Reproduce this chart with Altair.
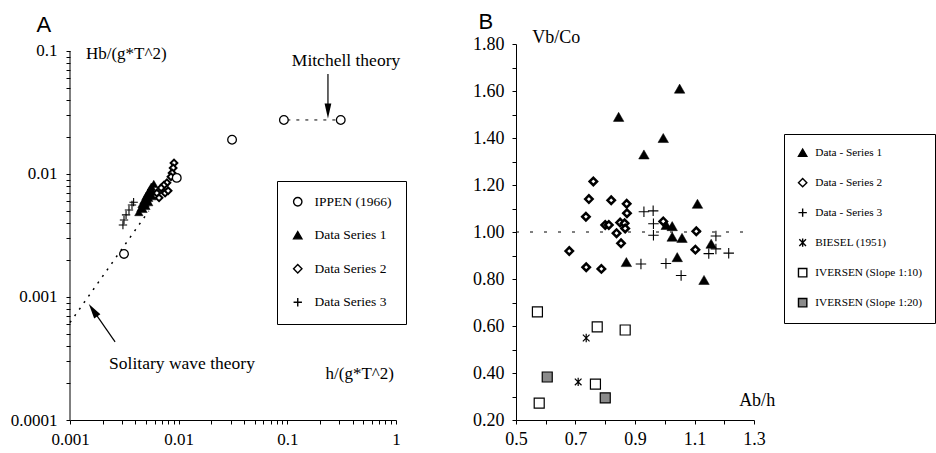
import altair as alt
import pandas as pd

# ---------------- Panel A data ----------------
ippen_x = [0.00314, 0.0096, 0.031, 0.093, 0.31]
ippen_y = [0.00224, 0.0093, 0.019, 0.0275, 0.0275]

a1_x = [0.0043, 0.0045, 0.0046, 0.0047, 0.0048, 0.0049, 0.0050, 0.0051, 0.0052,
        0.0053, 0.0054, 0.0055, 0.0056, 0.0058, 0.0059, 0.0050, 0.0053, 0.0057]
a1_y = [0.0049, 0.0053, 0.0057, 0.0052, 0.0061, 0.0058, 0.0066, 0.0062, 0.0070,
        0.0064, 0.0074, 0.0068, 0.0079, 0.0072, 0.0083, 0.0055, 0.0059, 0.0066]

a2_x = [0.00906, 0.0089, 0.0087, 0.0085, 0.0078, 0.0073, 0.0069, 0.0063, 0.0075, 0.0066, 0.0080]
a2_y = [0.0123, 0.0112, 0.0102, 0.0095, 0.0085, 0.0081, 0.0077, 0.0070, 0.0070, 0.0064, 0.0073]

a3_x = [0.00372, 0.00349, 0.00328, 0.00314, 0.00307, 0.00385]
a3_y = [0.0056, 0.0051, 0.00465, 0.00423, 0.00385, 0.0059]

seriesA = ["IPPEN (1966)", "Data Series 1", "Data Series 2", "Data Series 3"]

solitary_x = [0.001, 0.0053]
solitary_y = [0.00062, 0.005]
mitchell_x = [0.1, 0.29]
mitchell_y = [0.0275, 0.0275]

# ---------------- Panel B data ----------------
b1_x = [0.845, 1.05, 0.995, 0.93, 1.11, 1.005, 1.025, 1.025, 1.058, 0.871, 1.042, 1.132, 1.156]
b1_y = [1.49, 1.61, 1.40, 1.33, 1.12, 1.03, 1.025, 0.98, 0.975, 0.872, 0.893, 0.796, 0.95]

b2_x = [0.76, 0.745, 0.82, 0.872, 0.873, 0.735, 0.80, 0.812, 0.85, 0.865, 0.867, 0.838,
        0.853, 0.995, 1.106, 1.103, 0.736, 0.787, 0.679]
b2_y = [1.215, 1.14, 1.135, 1.12, 1.08, 1.065, 1.03, 1.03, 1.04, 1.037, 1.015, 0.995,
        0.952, 1.045, 1.003, 0.925, 0.85, 0.843, 0.919]

b3_x = [0.93, 0.961, 0.962, 0.962, 0.92, 1.004, 1.055, 1.172, 1.172, 1.148, 1.215]
b3_y = [1.086, 1.09, 1.035, 0.986, 0.864, 0.866, 0.815, 0.983, 0.928, 0.908, 0.91]

biesel_x = [0.736, 0.709]
biesel_y = [0.549, 0.362]

iv10_x = [0.572, 0.773, 0.867, 0.767, 0.578]
iv10_y = [0.660, 0.596, 0.583, 0.353, 0.272]

iv20_x = [0.605, 0.800]
iv20_y = [0.383, 0.294]

seriesB = ["Data - Series 1", "Data - Series 2", "Data - Series 3",
           "BIESEL (1951)", "IVERSEN (Slope 1:10)", "IVERSEN (Slope 1:20)"]

ref_x = [0.5, 1.3]
ref_y = [1.0, 1.0]

# tick values / labels
a_xticks = [k * 10.0 ** e for e in (-3, -2, -1) for k in range(1, 10)] + [1.0]
a_yticks = [k * 10.0 ** e for e in (-4, -3, -2) for k in range(1, 10)] + [0.1]
b_xticks = [round(0.5 + 0.1 * i, 1) for i in range(9)]
b_yticks = [round(0.2 + 0.1 * i, 1) for i in range(17)]

SERIF = "Liberation Serif"
SANS = "Liberation Sans"

PLUS = "M-1,0H1M0,-1V1"
STAR = "M-0.8,-0.8L0.8,0.8M-0.8,0.8L0.8,-0.8M0,-1V1"
HEAD_UP = "M0,-1L0.5,1L-0.5,1Z"
HEAD_DOWN = "M-0.45,-1L0.45,-1L0,1Z"

# ---------------- Panel A ----------------
xA = alt.Scale(type="log", domain=[0.001, 1])
yA = alt.Scale(type="log", domain=[0.0001, 0.114])
pow10 = "abs(log(datum.value)/LN10 - round(log(datum.value)/LN10)) < 0.001 ? format(datum.value, '~g') : ''"
axAx = alt.Axis(values=a_xticks, labelExpr=pow10, title=None, grid=False, tickSize=4,
                labelPadding=7, labelFontSize=17, labelFont=SERIF, labelFlush=False)
axAy = alt.Axis(values=a_yticks, labelExpr=pow10, title=None, grid=False, tickSize=4,
                labelPadding=9, labelFontSize=17, labelFont=SERIF, labelFlush=False,
                domain=False)

shapeA = ["circle", "triangle-up", "diamond", PLUS]
fillA = ["white", "black", "white", "transparent"]
strokeA = ["black", "black", "black", "black"]
legA = alt.Legend(title=None, orient="none", legendX=207, legendY=137,
                  strokeColor="black", fillColor="white", padding=14,
                  labelFont=SERIF, labelFontSize=13.5, labelColor="black",
                  rowPadding=18.5, symbolSize=70, symbolStrokeWidth=1.4,
                  labelOffset=10, symbolType="circle")


def enc_xy(chart):
    return chart.encode(x=alt.X("x:Q", scale=xA, axis=axAx), y=alt.Y("y:Q", scale=yA, axis=axAy))


def ptsA(xs, ys, name, size, sw):
    df = pd.DataFrame({"x": xs, "y": ys, "s": name})
    return enc_xy(alt.Chart(df).mark_point(filled=True, opacity=1, size=size, strokeWidth=sw)).encode(
        shape=alt.Shape("s:N", scale=alt.Scale(domain=seriesA, range=shapeA), legend=legA),
        fill=alt.Fill("s:N", scale=alt.Scale(domain=seriesA, range=fillA), legend=legA),
        stroke=alt.Stroke("s:N", scale=alt.Scale(domain=seriesA, range=strokeA), legend=legA),
    )


def lineA(xs, ys, dash, sw=1.2):
    df = pd.DataFrame({"x": xs, "y": ys})
    return enc_xy(alt.Chart(df).mark_line(color="black", strokeDash=dash, strokeWidth=sw))


def solidA(xs, ys, sw=1.2):
    df = pd.DataFrame({"x": xs, "y": ys})
    return enc_xy(alt.Chart(df).mark_line(color="black", strokeWidth=sw))


def headA(x, y, path, angle, size):
    df = pd.DataFrame({"x": [x], "y": [y]})
    return enc_xy(alt.Chart(df).mark_point(shape=path, filled=True, fill="black", color="black",
                                           opacity=1, size=size, angle=angle))


def textA(x, y, label, align, size=17, font=SERIF):
    df = pd.DataFrame({"x": [x], "y": [y], "t": [label]})
    return enc_xy(alt.Chart(df).mark_text(align=align, baseline="middle", font=font,
                                          fontSize=size, color="black")).encode(text="t:N")


panelA = alt.layer(
    solidA([0.001, 0.001], [0.0001, 0.1], 1.0),
    lineA(solitary_x, solitary_y, [2, 6], 1.5),
    lineA(mitchell_x, mitchell_y, [3, 6], 1.0),
    solidA([0.2365, 0.2365], [0.065, 0.0357]),
    headA(0.2365, 0.0325, HEAD_DOWN, 0, 225),
    solidA([0.00260, 0.00163], [0.000431, 0.000782]),
    headA(0.00163, 0.000782, HEAD_UP, 325.6, 225),
    ptsA(a3_x, a3_y, "Data Series 3", 70, 1.1),
    ptsA(a1_x, a1_y, "Data Series 1", 70, 0.5),
    ptsA(a2_x, a2_y, "Data Series 2", 45, 2.0),
    ptsA(ippen_x, ippen_y, "IPPEN (1966)", 75, 1.3),
    textA(0.0014, 0.0945, "Hb/(g*T^2)", "left"),
    textA(0.957, 0.000237, "h/(g*T^2)", "right"),
    textA(0.110, 0.0829, "Mitchell theory", "left", 17.5),
    textA(0.00229, 0.000285, "Solitary wave theory", "left", 17.5),
    textA(0.000576, 0.163, "A", "center", 22, SANS),
).properties(width=326, height=376)

# ---------------- Panel B ----------------
xB = alt.Scale(domain=[0.5, 1.3], nice=False, zero=False)
yB = alt.Scale(domain=[0.2, 1.8], nice=False, zero=False)
axBx = alt.Axis(values=b_xticks, title=None, grid=False, tickSize=4, labelPadding=6,
                labelFontSize=18, labelFont=SERIF, labelFlush=False,
                labelExpr="round(datum.value*10) % 2 == 1 ? format(datum.value, '.1f') : ''")
axBy = alt.Axis(values=b_yticks, title=None, grid=False, tickSize=4, labelPadding=8,
                labelFontSize=18, labelFont=SERIF, labelFlush=False,
                labelExpr="round(datum.value*10) % 2 == 0 ? format(datum.value, '.2f') : ''")

shapeB = ["triangle-up", "diamond", PLUS, STAR, "square", "square"]
fillB = ["black", "white", "transparent", "transparent", "white", "#8a8a8a"]
strokeB = ["black"] * 6
legB = alt.Legend(title=None, orient="none", legendX=268, legendY=90,
                  strokeColor="black", fillColor="white", padding=13,
                  labelFont=SERIF, labelFontSize=11.3, labelColor="black",
                  rowPadding=15, symbolSize=70, symbolStrokeWidth=1.4,
                  labelOffset=7, symbolType="circle")


def enc_xyB(chart):
    return chart.encode(x=alt.X("x:Q", scale=xB, axis=axBx), y=alt.Y("y:Q", scale=yB, axis=axBy))


def ptsB(xs, ys, name, size, sw):
    df = pd.DataFrame({"x": xs, "y": ys, "s": name})
    return enc_xyB(alt.Chart(df).mark_point(filled=True, opacity=1, size=size, strokeWidth=sw)).encode(
        shape=alt.Shape("s:N", scale=alt.Scale(domain=seriesB, range=shapeB), legend=legB),
        fill=alt.Fill("s:N", scale=alt.Scale(domain=seriesB, range=fillB), legend=legB),
        stroke=alt.Stroke("s:N", scale=alt.Scale(domain=seriesB, range=strokeB), legend=legB),
    )


def textB(x, y, label, align, size=18, font=SERIF):
    df = pd.DataFrame({"x": [x], "y": [y], "t": [label]})
    return enc_xyB(alt.Chart(df).mark_text(align=align, baseline="middle", font=font,
                                           fontSize=size, color="black")).encode(text="t:N")


refB = enc_xyB(alt.Chart(pd.DataFrame({"x": ref_x, "y": ref_y})).mark_line(
    color="black", strokeDash=[3, 11], strokeWidth=1.0))

panelB = alt.layer(
    refB,
    ptsB(b3_x, b3_y, "Data - Series 3", 110, 1.1),
    ptsB(b2_x, b2_y, "Data - Series 2", 55, 2.5),
    ptsB(b1_x, b1_y, "Data - Series 1", 110, 0.5),
    ptsB(biesel_x, biesel_y, "BIESEL (1951)", 70, 1.2),
    ptsB(iv10_x, iv10_y, "IVERSEN (Slope 1:10)", 100, 1.2),
    ptsB(iv20_x, iv20_y, "IVERSEN (Slope 1:20)", 100, 1.2),
    textB(0.555, 1.826, "Vb/Co", "left"),
    textB(1.25, 0.281, "Ab/h", "left"),
    textB(0.399, 1.894, "B", "center", 22, SANS),
).properties(width=238, height=376)

chart = alt.hconcat(panelA, panelB, spacing=65).resolve_scale(
    shape="independent", fill="independent", stroke="independent"
).properties(
    padding={"left": 10, "top": 10, "right": 0, "bottom": 0}, background="white"
).configure_view(stroke=None).configure_axis(
    domainColor="black", tickColor="black", labelColor="black", domainWidth=1, tickWidth=1,
    labelFont=SERIF
).configure_text(font=SERIF)

chart.save("out.html", embed_options={"renderer": "svg", "actions": False})
